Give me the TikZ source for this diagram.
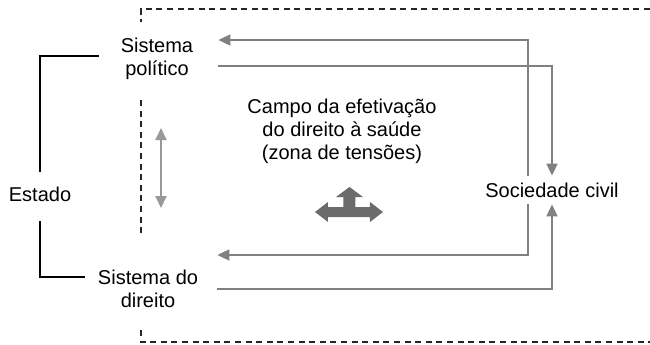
\documentclass[tikz,border=0pt]{standalone}
\usepackage{fontspec}
\setmainfont{Liberation Sans}
\usetikzlibrary{arrows.meta}
\begin{document}
\begin{tikzpicture}[x=0.5pt, y=-0.5pt,
every node/.style={font=\fontsize{10}{11.5}\selectfont, align=center},
frame/.style={dash pattern=on 3pt off 2.3pt, line width=0.8pt, black!85},
brace/.style={line width=0.7pt},
flow/.style={draw=black!50, line width=0.9pt, -{Triangle[length=6pt,width=5.5pt]}},
twoway/.style={draw=black!40, line width=0.9pt, {Triangle[length=6pt,width=5.5pt]}-{Triangle[length=6pt,width=5.5pt]}},
]
\useasboundingbox (0,0) rectangle (650,344);
\node[minimum width=61pt] (pol) at (157,59) {Sistema\\político};
\node[minimum width=69pt] (dir) at (148,289) {Sistema do\\direito};
\node (est) at (40,194) {Estado};
\node (soc) at (552,190) {Sociedade civil};
\node (campo) at (342,131) {Campo da efetivação\\do direito à saúde\\(zona de tensões)};
% field border
\draw[frame] (650,9) -- (141,9) -- (141,22);
\draw[frame] (141,100) -- (141,235);
\draw[frame] (141,330) -- (141,342) -- (650,342);
% Estado
\draw[brace] ([yshift=4pt]est.north) |- ([shift={(1.5pt,1.5pt)}]pol.west);
\draw[brace] ([yshift=-6.5pt]est.south) |- ([shift={(3pt,6pt)}]dir.west);
% flows
\draw[flow] ([xshift=-12pt]soc.north) |- ([yshift=9.5pt]pol.east);
\draw[flow] ([yshift=-3.5pt]pol.east) -| (soc.north);
\draw[flow] ([xshift=-12pt]soc.south) |- ([yshift=17pt]dir.east);
\draw[flow] (dir.east) -| (soc.south);
\coordinate (t1) at (161,128);
\coordinate (t2) at (161,208);
\draw[twoway] (t1) -- (t2);
% thick arrow
\fill[black!58] (315,212) -- (328,202) -- (328,207) -- (343.5,207) -- (343.5,197)
  -- (336,197) -- (349.5,187) -- (363,197) -- (355.5,197) -- (355.5,207)
  -- (370,207) -- (370,202) -- (383,212) -- (370,222) -- (370,217)
  -- (328,217) -- (328,222) -- cycle;
\end{tikzpicture}
\end{document}
